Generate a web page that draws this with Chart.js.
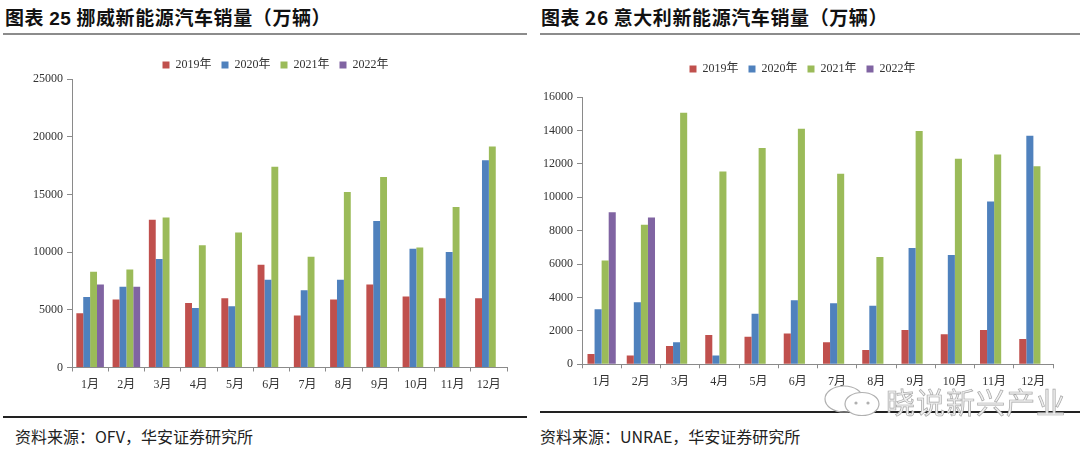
<!DOCTYPE html>
<html>
<head>
<meta charset="utf-8">
<script src="https://cdn.jsdelivr.net/npm/chart.js@4/dist/chart.umd.min.js"></script>
<style>
  body { margin: 0; width: 1080px; height: 449px; background: #fff; position: relative; overflow: hidden;
         font-family: "Noto Sans CJK SC", sans-serif; }
  .title { position: absolute; top: 3px; font-size: 19px; font-weight: bold; color: #111; white-space: nowrap; letter-spacing: 0.6px; }
  .rule { position: absolute; }
  .src { position: absolute; top: 424px; font-size: 16px; color: #222; white-space: nowrap; }
  .box { position: absolute; top: 40px; width: 540px; height: 380px; }
  .wm { position: absolute; left: 886px; top: 380px; font-size: 29px; color: #f0f0f0;
        -webkit-text-stroke: 0.7px #a8a8a8; white-space: nowrap; letter-spacing: 1px; }
  .wmicon { position: absolute; left: 822px; top: 384px; }
</style>
</head>
<body>

<div class="title" style="left:5px">图表 <span style="font-family:'Liberation Sans',Arial,sans-serif">25</span> 挪威新能源汽车销量（万辆）</div>
<div class="title" style="left:541px">图表 26 意大利新能源汽车销量（万辆）</div>
<div class="rule" style="left:3px;top:33px;width:524px;height:2px;background:#8c8c8c"></div>
<div class="rule" style="left:540px;top:33px;width:540px;height:2px;background:#8c8c8c"></div>

<div class="box" style="left:0px"><canvas id="norway" width="540" height="380"></canvas></div>
<div class="box" style="left:540px"><canvas id="italy" width="540" height="380"></canvas></div>

<div class="rule" style="left:3px;top:416px;width:524px;height:1.5px;background:#222"></div>
<div class="rule" style="left:540px;top:411px;width:540px;height:1.5px;background:#222"></div>
<div class="src" style="left:15px">资料来源：OFV，华安证券研究所</div>
<div class="src" style="left:540px">资料来源：UNRAE，华安证券研究所</div>

<svg class="wmicon" width="62" height="34" viewBox="0 0 62 34">
  <ellipse cx="22" cy="15" rx="19" ry="13" fill="none" stroke="#b0b0b0" stroke-width="1.2"/>
  <ellipse cx="40" cy="20" rx="17" ry="11.5" fill="#fff" stroke="#b0b0b0" stroke-width="1.2"/>
  <circle cx="34" cy="19" r="1.6" fill="#b0b0b0"/>
  <circle cx="46" cy="19" r="1.6" fill="#b0b0b0"/>
</svg>
<div class="wm">晓说新兴产业</div>

<script>
// months on the x axis
const months = ['1月', '2月', '3月', '4月', '5月', '6月', '7月', '8月', '9月', '10月', '11月', '12月'];
const years = ['2019年', '2020年', '2021年', '2022年'];
const colors = ['#C0504D', '#4F81BD', '#9BBB59', '#8064A2'];

// Norway NEV sales
const norway2019 = [4700, 5900, 12800, 5600, 6000, 8900, 4500, 5900, 7200, 6150, 6000, 6000];
const norway2020 = [6100, 7000, 9400, 5150, 5300, 7600, 6700, 7600, 12700, 10300, 10000, 17950];
const norway2021 = [8300, 8500, 13000, 10600, 11700, 17400, 9600, 15200, 16500, 10400, 13900, 19150];
const norway2022 = [7200, 7000, null, null, null, null, null, null, null, null, null, null];

// Italy NEV sales
const italy2019 = [620, 520, 1100, 1750, 1650, 1850, 1320, 850, 2060, 1800, 2060, 1520];
const italy2020 = [3300, 3720, 1320, 520, 3020, 3840, 3660, 3500, 6960, 6540, 9740, 13680];
const italy2021 = [6220, 8360, 15060, 11540, 12940, 14100, 11400, 6420, 13960, 12300, 12560, 11860];
const italy2022 = [9100, 8780, null, null, null, null, null, null, null, null, null, null];

const tickFont = { family: "'Liberation Serif', 'Noto Sans CJK SC', serif", size: 12 };
const axisGrey = '#8a8a8a';

// stretch the legend box vertically and nudge it sideways
function legendTweak(extra, dx) {
  return {
    id: 'legendTweak',
    beforeInit(chart) {
      const fit = chart.legend.fit;
      chart.legend.fit = function () {
        fit.call(this);
        this.height += extra;
      };
    },
    afterLayout(chart) {
      chart.legend.left += dx;
      chart.legend.right += dx;
    }
  };
}

function makeChart(id, series, yMax, yStep, g) {
  const ctx = document.getElementById(id).getContext('2d');
  return new Chart(ctx, {
    type: 'bar',
    data: {
      labels: months,
      datasets: series.map((d, i) => ({
        label: years[i],
        data: d,
        backgroundColor: colors[i],
        borderWidth: 0,
        categoryPercentage: g.cat,
        barPercentage: 1
      }))
    },
    options: {
      responsive: false,
      animation: false,
      devicePixelRatio: 1,
      layout: { padding: g.pad },
      plugins: {
        legend: {
          position: 'top',
          labels: { boxWidth: 7, boxHeight: 7, padding: 10, font: tickFont, color: '#333' }
        },
        tooltip: { enabled: false }
      },
      scales: {
        x: {
          grid: { drawOnChartArea: false, tickLength: 4, color: axisGrey, offset: true },
          border: { color: axisGrey, width: 1 },
          ticks: { font: tickFont, color: '#333', padding: 6, maxRotation: 0 },
          afterFit: s => { s.height = 30; }
        },
        y: {
          min: 0,
          max: yMax,
          grid: { drawOnChartArea: false, tickLength: 5, color: axisGrey },
          border: { color: axisGrey, width: 1 },
          ticks: { stepSize: yStep, font: tickFont, color: '#333', padding: 4, callback: v => String(v) },
          afterFit: s => { s.width = g.yw; }
        }
      }
    },
    plugins: [legendTweak(g.extra, g.dx)]
  });
}

makeChart('norway', [norway2019, norway2020, norway2021, norway2022], 25000, 5000,
  { cat: 0.76, yw: 64, extra: -2, dx: 18, pad: { left: 8, right: 33, top: 9, bottom: 22.5 } });

makeChart('italy', [italy2019, italy2020, italy2021, italy2022], 16000, 2000,
  { cat: 0.72, yw: 40, extra: 12, dx: 5, pad: { left: 2, right: 27, top: 13, bottom: 25.7 } });
</script>
</body>
</html>
